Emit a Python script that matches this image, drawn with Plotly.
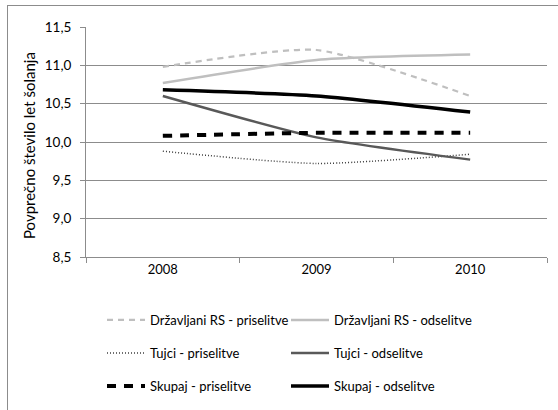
import plotly.graph_objects as go

leta = ["2008", "2009", "2010"]

drz_pri = [10.98, 11.20, 10.60]
drz_ods = [10.77, 11.07, 11.14]
tuj_pri = [9.88, 9.72, 9.84]
tuj_ods = [10.60, 10.06, 9.77]
sku_pri = [10.08, 10.12, 10.12]
sku_ods = [10.68, 10.60, 10.39]

imena = ["Državljani RS - priselitve", "Državljani RS - odselitve",
         "Tujci - priselitve", "Tujci - odselitve",
         "Skupaj - priselitve", "Skupaj - odselitve"]

serije = [drz_pri, drz_ods, tuj_pri, tuj_ods, sku_pri, sku_ods]
slogi = [
    dict(color="#bfbfbf", width=2.2, dash="6px,5px"),
    dict(color="#bfbfbf", width=2.5, dash="solid"),
    dict(color="#404040", width=1.5, dash="1px,2px"),
    dict(color="#595959", width=2.5, dash="solid"),
    dict(color="#000000", width=4, dash="9px,8px"),
    dict(color="#000000", width=3.5, dash="solid"),
]

W, H = 558, 410
L, R, T, B = 86, 11, 27, 153
pw, ph = W - L - R, H - T - B
px = lambda v: (v - L) / pw
py = lambda v: 1 + (T - v) / ph

# legenda: 2 stolpca x 3 vrstice
leg_x = [102, 286]
leg_y = [320, 353, 386]

def leg(xpx, ypx):
    return dict(orientation="h", x=px(xpx), xanchor="left",
                y=py(ypx), yanchor="middle",
                font=dict(size=13, color="#000"), bgcolor="rgba(0,0,0,0)",
                itemwidth=38)

fig = go.Figure()
legende = {}
for i, (ime, y, slog) in enumerate(zip(imena, serije, slogi)):
    key = "legend" if i == 0 else "legend%d" % (i + 1)
    legende[key] = leg(leg_x[i % 2], leg_y[i // 2])
    fig.add_trace(go.Scatter(x=leta, y=y, name=ime, mode="lines",
                             line=dict(shape="spline", smoothing=0.6, **slog),
                             legend=key, showlegend=True))

siva = "#8c8c8c"
fig.update_layout(
    width=W, height=H,
    margin=dict(l=L, r=R, t=T, b=B, autoexpand=False),
    paper_bgcolor="white", plot_bgcolor="white",
    font=dict(family="Lato, Liberation Sans, sans-serif", size=13, color="#000"),
    separators=", ",
    showlegend=True,
    xaxis=dict(type="category", showline=True, linecolor=siva, linewidth=1,
               ticks="outside", tickson="boundaries", ticklen=5, tickcolor=siva,
               showgrid=False, tickfont=dict(size=13), range=[-0.5, 2.5]),
    yaxis=dict(range=[8.5, 11.5], dtick=0.5, tickformat=".1f", showline=True,
               linecolor=siva, linewidth=1, ticks="outside", ticklen=5,
               tickcolor=siva, gridcolor=siva, gridwidth=1,
               zeroline=False, tickfont=dict(size=13.5), ticklabelstandoff=6),
    annotations=[dict(xref="paper", yref="paper", x=px(29), y=py(146),
                      xanchor="center", yanchor="middle", textangle=-90,
                      text="Povprečno število let šolanja", showarrow=False,
                      font=dict(size=15))],
    **legende
)

# okvir okoli grafa (viden levi in zgornji rob)
okvir = ("document.body.style.margin='0';"
         "var o=document.createElement('div');"
         "o.style.cssText='position:fixed;left:7px;top:5px;right:-10px;bottom:-10px;"
         "border:1.5px solid #8c8c8c;pointer-events:none;';"
         "document.body.appendChild(o);")

fig.write_html("out.html", config={"displayModeBar": False}, post_script=okvir)
